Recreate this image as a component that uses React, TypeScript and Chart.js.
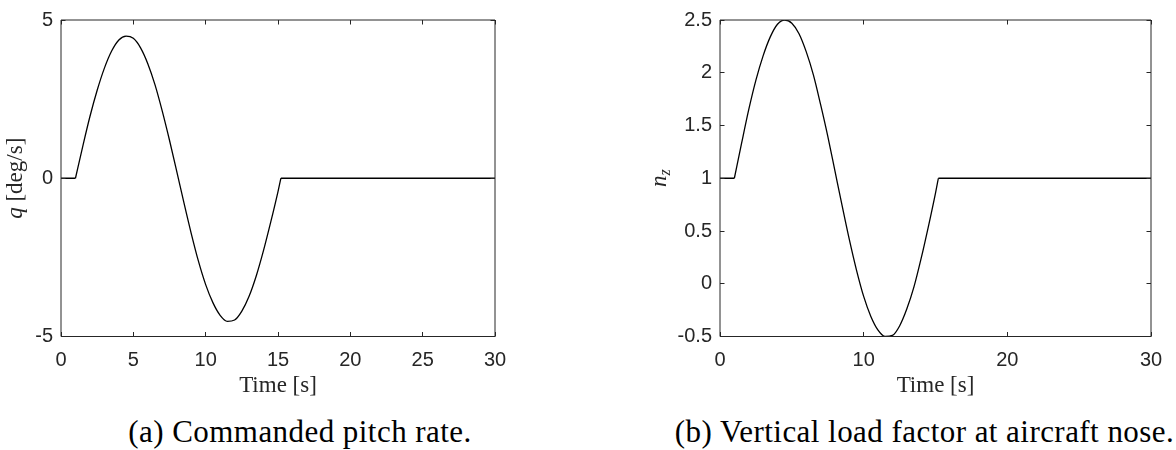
import React, { useEffect, useRef } from "react";
import { Chart, registerables } from "chart.js";

Chart.register(...registerables);

// ---- data ----
const waveTime = [
  1, 1.5, 2, 2.5, 3, 3.5, 4, 4.5, 5, 5.5, 6, 6.5, 7, 7.5, 8, 8.5, 9, 9.5, 10,
  10.5, 11, 11.5, 12, 12.5, 13, 13.5, 14, 14.5, 15, 15.2,
];
const pitchRate = [
  0, 1.0, 1.95, 2.78, 3.48, 4.02, 4.37, 4.49, 4.42, 4.12, 3.62, 2.95, 2.12,
  1.2, 0.22, -0.78, -1.74, -2.62, -3.36, -3.93, -4.33, -4.52, -4.48, -4.2,
  -3.73, -3.08, -2.28, -1.38, -0.42, 0,
];
const loadFactor = [
  1, 1.33, 1.65, 1.93, 2.16, 2.34, 2.46, 2.5, 2.47, 2.37, 2.2, 1.98, 1.7, 1.4,
  1.07, 0.74, 0.42, 0.13, -0.12, -0.31, -0.44, -0.5, -0.49, -0.4, -0.24,
  -0.03, 0.24, 0.54, 0.86, 1,
];
const preTime = [0, 1];
const postTime = [15.2, 30];
const pitchRest = [0, 0];
const loadRest = [1, 1];

const xTicksA = [0, 5, 10, 15, 20, 25, 30];
const xLabelsA = ["0", "5", "10", "15", "20", "25", "30"];
const xTicksB = [0, 10, 20, 30];
const xLabelsB = ["0", "10", "20", "30"];
const yTicksA = [-5, 0, 5];
const yLabelsA = ["-5", "0", "5"];
const yTicksB = [-0.5, 0, 0.5, 1, 1.5, 2, 2.5];
const yLabelsB = ["-0.5", "0", "0.5", "1", "1.5", "2", "2.5"];

const INK = "#262626";
const SERIF = '"Liberation Serif", "Times New Roman", serif';
const SANS = '"Liberation Sans", Arial, sans-serif';

type TitlePart = { text: string; italic: boolean; size: number; shift: number };

const axesBox = {
  id: "axesBox",
  afterDatasetsDraw(chart: any, _args: any, opts: any) {
    const { ctx, chartArea: a, scales } = chart;
    const xs = scales.x;
    const ys = scales.y;
    ctx.save();
    ctx.strokeStyle = INK;
    ctx.lineWidth = 1;
    ctx.beginPath();
    ctx.moveTo(a.left, a.top);
    ctx.lineTo(a.right, a.top);
    ctx.moveTo(a.left, a.bottom);
    ctx.lineTo(a.right, a.bottom);
    ctx.moveTo(a.left, a.top);
    ctx.lineTo(a.left, a.bottom);
    ctx.moveTo(a.right, a.top);
    ctx.lineTo(a.right, a.bottom);
    ctx.stroke();
    const tl = 4.5;
    ctx.beginPath();
    for (const v of opts.xTicks as number[]) {
      const px = Math.floor(xs.getPixelForValue(v)) + 0.5;
      ctx.moveTo(px, a.bottom);
      ctx.lineTo(px, a.bottom - tl);
      ctx.moveTo(px, a.top);
      ctx.lineTo(px, a.top + tl);
    }
    for (const v of opts.yTicks as number[]) {
      const py = Math.floor(ys.getPixelForValue(v)) + 0.5;
      ctx.moveTo(a.left, py);
      ctx.lineTo(a.left + tl, py);
      ctx.moveTo(a.right, py);
      ctx.lineTo(a.right - tl, py);
    }
    ctx.stroke();

    // y-axis title with mixed styles
    const parts = opts.yTitle as TitlePart[];
    const widths: number[] = [];
    let total = 0;
    for (const p of parts) {
      ctx.font = `${p.italic ? "italic " : ""}${p.size}px ${SERIF}`;
      const w = ctx.measureText(p.text).width;
      widths.push(w);
      total += w;
    }
    ctx.translate(a.left - opts.yTitleOffset, (a.top + a.bottom) / 2);
    ctx.rotate(-Math.PI / 2);
    ctx.fillStyle = INK;
    ctx.textBaseline = "alphabetic";
    ctx.textAlign = "left";
    let cx = -total / 2;
    parts.forEach((p, i) => {
      ctx.font = `${p.italic ? "italic " : ""}${p.size}px ${SERIF}`;
      ctx.fillText(p.text, cx, p.shift);
      cx += widths[i];
    });
    ctx.restore();
  },
};

type PanelProps = {
  left: number;
  width: number;
  height: number;
  yAxisWidth: number;
  padRight: number;
  yMin: number;
  yMax: number;
  yValues: number[];
  rest: number[];
  xTicks: number[];
  xLabels: string[];
  yTicks: number[];
  yLabels: string[];
  yTitle: TitlePart[];
  yTitleOffset: number;
};

function pts(xs: number[], ys: number[]) {
  return xs.map((x, i) => ({ x, y: ys[i] }));
}

function Panel(p: PanelProps) {
  const ref = useRef<HTMLCanvasElement | null>(null);
  useEffect(() => {
    if (!ref.current) return;
    const line = {
      borderColor: "#000",
      borderWidth: 1.3,
      pointRadius: 0,
      fill: false,
    };
    const chart = new Chart(ref.current, {
      type: "line",
      data: {
        datasets: [
          { ...line, data: pts(preTime, p.rest), tension: 0 },
          {
            ...line,
            data: pts(waveTime, p.yValues),
            cubicInterpolationMode: "monotone",
          },
          { ...line, data: pts(postTime, p.rest), tension: 0 },
        ],
      } as any,
      options: {
        animation: false,
        responsive: false,
        layout: { padding: { left: 0, right: p.padRight, top: 12.5, bottom: 0 } },
        plugins: {
          legend: { display: false },
          tooltip: { enabled: false },
          axesBox: {
            xTicks: p.xTicks,
            yTicks: p.yTicks,
            yTitle: p.yTitle,
            yTitleOffset: p.yTitleOffset,
          },
        } as any,
        scales: {
          x: {
            type: "linear",
            min: 0,
            max: 30,
            afterBuildTicks: (s: any) => {
              s.ticks = p.xTicks.map((v) => ({ value: v }));
            },
            afterFit: (s: any) => {
              s.height = 73.5;
            },
            ticks: {
              callback: (_v: any, i: number) => p.xLabels[i],
              font: { family: SANS, size: 20 },
              color: INK,
              padding: 11.5,
              maxRotation: 0,
              autoSkip: false,
            },
            grid: { display: false, drawTicks: false },
            border: { display: false },
            title: {
              display: true,
              text: "Time [s]",
              font: { family: SERIF, size: 23 },
              color: INK,
              padding: { top: 0, bottom: 10 },
            },
          },
          y: {
            type: "linear",
            min: p.yMin,
            max: p.yMax,
            afterBuildTicks: (s: any) => {
              s.ticks = p.yTicks.map((v) => ({ value: v }));
            },
            afterFit: (s: any) => {
              s.width = p.yAxisWidth;
            },
            ticks: {
              callback: (_v: any, i: number) => p.yLabels[i],
              font: { family: SANS, size: 20 },
              color: INK,
              padding: 8,
              autoSkip: false,
            },
            grid: { display: false, drawTicks: false },
            border: { display: false },
          },
        },
      } as any,
      plugins: [axesBox as any],
    });
    return () => chart.destroy();
  }, []);
  return (
    <canvas
      ref={ref}
      width={p.width}
      height={p.height}
      style={{ position: "absolute", left: p.left, top: 0, width: p.width, height: p.height }}
    />
  );
}

const captionStyle = (center: number): React.CSSProperties => ({
  position: "absolute",
  left: center - 300,
  width: 600,
  top: 416,
  textAlign: "center",
  fontFamily: SERIF,
  fontSize: 31,
  lineHeight: "31px",
  letterSpacing: "0.45px",
  color: "#000",
  whiteSpace: "nowrap",
});

export default function App() {
  return (
    <div
      style={{
        position: "absolute",
        left: 0,
        top: 0,
        width: 1176,
        height: 450,
        background: "#fff",
        overflow: "hidden",
      }}
    >
      <Panel
        left={0}
        width={600}
        height={410}
        yAxisWidth={61}
        padRight={105}
        yMin={-5}
        yMax={5}
        yValues={pitchRate}
        rest={pitchRest}
        xTicks={xTicksA}
        xLabels={xLabelsA}
        yTicks={yTicksA}
        yLabels={yLabelsA}
        yTitle={[
          { text: "q", italic: true, size: 23, shift: 0 },
          { text: " [deg/s]", italic: false, size: 23, shift: 0 },
        ]}
        yTitleOffset={39.5}
      />
      <Panel
        left={600}
        width={576}
        height={410}
        yAxisWidth={120}
        padRight={25}
        yMin={-0.5}
        yMax={2.5}
        yValues={loadFactor}
        rest={loadRest}
        xTicks={xTicksB}
        xLabels={xLabelsB}
        yTicks={yTicksB}
        yLabels={yLabelsB}
        yTitle={[
          { text: "n", italic: true, size: 23, shift: 0 },
          { text: "z", italic: true, size: 16, shift: 4 },
        ]}
        yTitleOffset={54}
      />
      <div style={captionStyle(300)}>(a) Commanded pitch rate.</div>
      <div style={captionStyle(924.5)}>(b) Vertical load factor at aircraft nose.</div>
    </div>
  );
}
